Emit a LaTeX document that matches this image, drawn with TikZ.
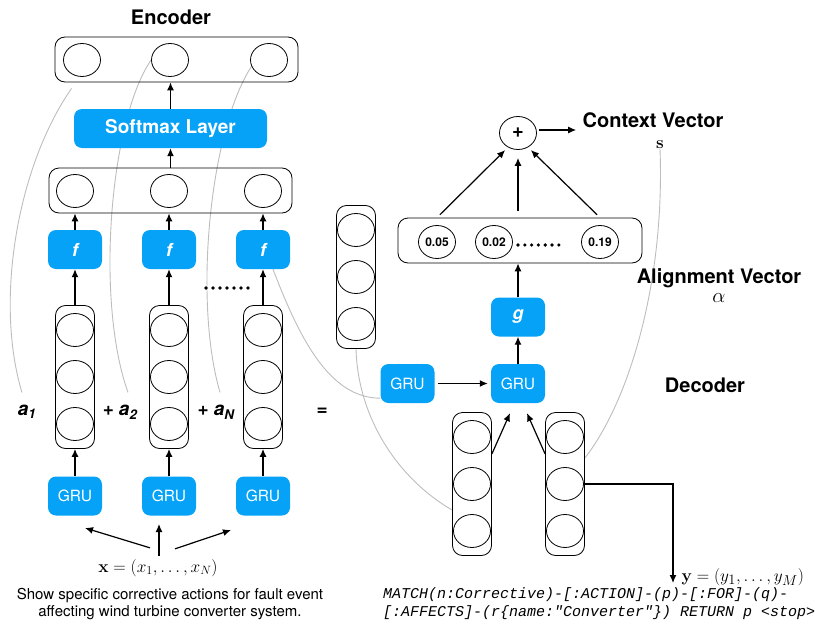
\documentclass[tikz,border=0pt]{standalone}
\usepackage{amsmath,amssymb}
\usepackage[no-math]{fontspec}
\setmainfont{TeX Gyre Heros}
\newfontfamily\codefont{Liberation Mono}
\usepackage{xcolor}
\usepackage{tikz}
\usetikzlibrary{calc,arrows.meta,positioning,shapes.geometric,backgrounds}
\definecolor{gruc}{HTML}{05A2F7}
\definecolor{attnc}{HTML}{BDBDBD}
\newcommand{\titlef}{\fontsize{20}{22}\selectfont\bfseries}
\newcommand{\softf}{\fontsize{19}{21}\selectfont\bfseries}
\newcommand{\funf}{\fontsize{18}{20}\selectfont\bfseries\itshape}
\newcommand{\grufont}{\fontsize{15.5}{17}\selectfont}
\newcommand{\numf}{\fontsize{12}{13}\selectfont\bfseries}
\newcommand{\plusf}{\fontsize{20}{22}\selectfont\bfseries}
\newcommand{\alf}{\fontsize{19}{21}\selectfont\bfseries\itshape}
\newcommand{\mathf}{\fontsize{18}{20}\selectfont}
\newcommand{\bigmathf}{\fontsize{19}{21}\selectfont}
\newcommand{\symf}{\fontsize{22}{24}\selectfont}
\newcommand{\capf}{\fontsize{15}{16.5}\selectfont}
\newcommand{\codef}{\codefont\itshape\fontsize{15}{18}\selectfont}
\tikzset{
  ar/.style={-{Latex[length=8pt,width=7pt]},line width=1.2pt},
  attn/.style={draw=attnc,line width=0.9pt},
  cell/.style={ellipse,draw,line width=0.8pt,minimum width=37pt,minimum height=33pt,inner sep=0pt},
  colbox/.style={draw,line width=0.8pt,rounded corners=10pt,minimum width=39pt,minimum height=143pt},
  rowbox/.style={draw,line width=0.8pt,rounded corners=10pt,minimum width=243pt,minimum height=45pt},
  blubox/.style={fill=gruc,text=white,rounded corners=8pt,minimum width=54pt,minimum height=39pt,inner sep=0pt}
}
\begin{document}
\begin{tikzpicture}[x=1pt,y=-1pt]
\useasboundingbox (0,0) rectangle (815,624);
% encoder
\node[font=\titlef] (enctitle) at (171,17) {Encoder};
\node[rowbox] (topbox) at (176.5,59.5) {};
\foreach \i/\cx in {1/82,2/170,3/269} \node[cell] (top\i) at (\cx,60) {};
\node[blubox,minimum width=193pt,font=\softf] (softmax) at (170.5,128.5) {Softmax Layer};
\node[rowbox] (midbox) at (170.5,190.5) {};
\foreach \i/\cx in {1/75,2/169,3/263} {
  \node[cell] (mid\i) at (\cx,191) {};
  \node[blubox,font=\funf] (f\i) at (\cx,249.5) {f};
  \node[colbox] (col\i) at (\cx,377) {};
  \foreach \k/\dy in {1/-47,2/0,3/47} \node[cell] (col\i-\k) at (\cx,{377+\dy}) {};
  \node[blubox,font=\grufont] (gru\i) at (\cx,496) {GRU};
  \draw[ar] (gru\i) -- (col\i);
  \draw[ar] (col\i) -- (f\i);
  \draw[ar] (f\i) -- (f\i |- midbox.south);
}
\draw[ar] (midbox) -- (softmax);
\draw[ar] (softmax.north) -- (softmax.north |- topbox.south);
\foreach \i in {0,...,6} \fill (206+\i*7,288) circle (1.8pt);
\node[font=\alf] (a1) at (27,412) {a\textsubscript{1}};
\node[font=\alf] (a2) at (120,412) {+ a\textsubscript{2}};
\node[font=\alf] (aN) at (216,412) {+ a\textsubscript{N}};
\node[font=\alf] (eq) at (322,412) {=};
% input
\node[font=\mathf] (xlab) at (158,568) {$\mathbf{x}=(x_1,\ldots,x_N)$};
\coordinate (inl) at (85,528);
\coordinate (inm) at (159,524);
\coordinate (inr) at (231,530);
\draw[ar] ([shift={(-8,-8)}]xlab.north) -- (inl);
\draw[ar] (xlab.north -| inm) -- (inm);
\draw[ar] ([shift={(17,-7)}]xlab.north) -- (inr);
\node[align=center,font=\capf] (caption) at (170,604) {Show specific corrective actions for fault event\\affecting wind turbine converter system.};
% decoder
\node[colbox] (colm) at (356,277) {};
\foreach \k/\dy in {1/-47,2/0,3/47} \node[cell] (colm-\k) at (356,{277+\dy}) {};
\node[rowbox,minimum width=244pt] (alignbox) at (520,240.5) {};
\node[cell,font=\numf] (al1) at (437,242) {0.05};
\node[cell,font=\numf] (al2) at (494,242) {0.02};
\node[cell,font=\numf] (al3) at (600,242) {0.19};
\foreach \i in {0,...,6} \fill (518+\i*6.8,245) circle (1.8pt);
\node[cell,font=\plusf] (plus) at (518,133) {+};
\node[blubox,font=\funf] (g) at (518,317) {g};
\node[blubox,font=\grufont] (grud) at (518,383.5) {GRU};
\node[blubox,font=\grufont] (gruc) at (407.5,383.5) {GRU};
\foreach \i/\cx in {1/472,2/565} {
  \node[colbox] (cold\i) at (\cx,484) {};
  \foreach \k/\dy in {1/-47,2/0,3/47} \node[cell] (cold\i-\k) at (\cx,{484+\dy}) {};
}
\node[font=\titlef] (ctx) at (653,120) {Context Vector};
\node[font=\bigmathf,inner sep=0pt] (ctxs) at (660,145) {$\mathbf{s}$};
\node[font=\titlef] (alig) at (719,278) {Alignment Vector};
\node[font=\symf,below=2pt of alig,inner sep=0pt] (alpha) {$\alpha$};
\node[font=\titlef] (dectitle) at (705,385) {Decoder};
\draw[ar,shorten <=4pt,shorten >=4pt] (alignbox.north -| al1) -- (plus.235);
\draw[ar,shorten <=7pt,shorten >=8pt] (alignbox.north -| plus) -- (plus.south);
\draw[ar,shorten <=4pt,shorten >=4pt] (alignbox.north -| al3) -- (plus.305);
\draw[ar,shorten <=2pt,shorten >=3pt] ([yshift=3pt]plus.east) -- ([yshift=3pt]plus.east -| ctx.west);
\draw[ar] (g) -- (g |- alignbox.south);
\draw[ar] (grud) -- (g);
\draw[ar,shorten <=3pt,shorten >=3pt] (gruc) -- (grud);
\draw[ar] (cold1.east |- cold1-1.south) -- ([shift={(-8,10)}]grud.south);
\draw[ar] (cold2.west |- cold2-1.south) -- ([shift={(9,10)}]grud.south);
\coordinate (yend) at (673,583);
\draw[ar] (cold2-2.east) -| (yend);
\node[anchor=west,font=\bigmathf] (ylab) at (678,577) {$\mathbf{y}=(y_1,\ldots,y_M)$};
\node[anchor=north west,align=left,font=\codef,inner sep=0pt] (cypher) at (383,587) {MATCH(n:Corrective)-[:ACTION]-(p)-[:FOR]-(q)-\\{}[:AFFECTS]-(r\{name:"Converter"\}) RETURN p <stop>};
% attention links
\begin{scope}[on background layer]
\draw[attn] ([shift={(17,6)}]topbox.south west) .. controls (18,165) and (-6,300) .. ([shift={(-5,-9)}]a1.north);
\draw[attn] (top2.west) .. controls (110,120) and (95,300) .. ([shift={(8,-9)}]a2.north);
\draw[attn] (top3.200) .. controls (210,130) and (193,300) .. ([shift={(4,-9)}]aN.north);
\draw[attn] ([xshift=10pt]f3.south) .. controls (300,340) and (330,398) .. ([yshift=5pt]gruc.south west);
\draw[attn] (colm.south) .. controls (358,420) and (400,480) .. ([yshift=-26pt]cold1.west);
\draw[attn] (ctxs.south) .. controls (665,280) and (630,400) .. ([yshift=26pt]cold2.east);
\end{scope}
\end{tikzpicture}
\end{document}
